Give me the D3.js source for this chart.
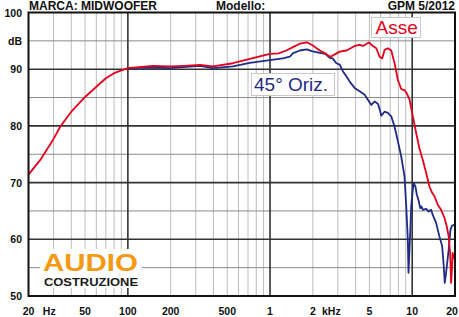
<!DOCTYPE html>
<html>
<head>
<meta charset="utf-8">
<script src="https://cdn.jsdelivr.net/npm/d3@7"></script>
<style>
  body { margin: 0; background: #fff; }
  svg { font-family: "Liberation Sans", Arial, sans-serif; }
</style>
</head>
<body>
<svg id="chart"></svg>
<script>
var width = 459
var height = 317
var margin = {top: 12.5, left: 28.5, right: 4, bottom: 21}

// frequency (Hz) / level (dB)
var asseFreq = [20, 24.2, 30, 33.5, 40, 50, 60, 70, 80, 90, 100, 150, 200, 250, 321, 397, 548, 721, 997, 1150, 1300, 1450, 1619, 1812, 1965, 2236, 2450, 2628, 2755, 3090, 3460, 3936, 4268, 4500, 4958, 5290, 5590, 5896, 6150, 6390, 6740, 7120, 7510, 7930, 8370, 8830, 9080, 9570, 10100, 10670, 11250, 11870, 12540, 13220, 13820, 14340, 15120, 15970, 16860, 17490, 18060, 18480, 18780, 19090, 19260, 19580, 20000]
var asseDb = [71.4, 74.0, 77.7, 79.9, 82.5, 85.1, 86.9, 88.4, 89.3, 89.8, 90.2, 90.6, 90.5, 90.6, 90.75, 90.5, 91.05, 91.8, 92.7, 92.8, 93.3, 93.9, 94.5, 94.75, 94.3, 93.3, 92.8, 92.2, 92.4, 93.1, 93.3, 94.1, 94.3, 94.1, 94.7, 94.1, 93.7, 92.2, 91.9, 93.4, 93.7, 93.3, 91.1, 88.1, 86.5, 86.3, 85.9, 84.7, 81.7, 78.7, 76.0, 74.0, 71.7, 69.3, 68.2, 67.6, 66.1, 65.2, 63.8, 62.3, 60.5, 57.6, 52.3, 55.25, 57.6, 57.0, 56.4]

var orizFreq = [100, 150, 198, 321, 397, 548, 721, 997, 1230, 1377, 1445, 1619, 1812, 1965, 2236, 2450, 2628, 2755, 2928, 3090, 3260, 3500, 3630, 3936, 4268, 4630, 4878, 5156, 5436, 5736, 5896, 6060, 6390, 6740, 7120, 7510, 7930, 8370, 8830, 9080, 9310, 9420, 9680, 9840, 10100, 10260, 10540, 10770, 11130, 11380, 11620, 11870, 12540, 13080, 13590, 13950, 14730, 15540, 16240, 16670, 16940, 17320, 18060, 18580, 19090, 20000]
var orizDb = [90.2, 90.3, 90.2, 90.6, 90.2, 90.5, 91.1, 91.6, 91.9, 92.2, 92.8, 93.3, 93.5, 93.2, 92.9, 92.7, 92.0, 91.9, 91.05, 90.8, 89.6, 88.5, 87.8, 86.7, 86.1, 85.5, 84.6, 83.7, 84.3, 83.9, 83.0, 81.8, 82.5, 82.3, 81.7, 79.9, 77.3, 74.6, 71.1, 65.8, 60.0, 54.1, 61.1, 65.8, 68.75, 69.9, 69.3, 67.9, 66.7, 65.5, 65.8, 65.2, 65.35, 64.9, 65.2, 64.3, 62.9, 60.5, 58.8, 55.3, 52.3, 54.1, 58.2, 61.7, 62.4, 62.6]

var xTickVals = [20, 50, 100, 200, 500, 1000, 2000, 5000, 10000, 20000]
var xTickText = ['20', '50', '100', '200', '500', '1', '2', '5', '10', '20']
var yTickVals = [50, 60, 70, 80, 90, 100]

var svg = d3.select('#chart').attr('width', width).attr('height', height)

var xScale = d3.scaleLog().domain([20, 20000]).range([margin.left, width - margin.right])
var yScale = d3.scaleLinear().domain([50, 100]).range([height - margin.bottom, margin.top])

// grid
var minorFreq = []
;[10, 100, 1000, 10000].forEach(function (dec) {
    for (var k = 2; k <= 9; k++) {
        var f = dec * k
        if (f > 20 && f < 20000) minorFreq.push(f)
    }
})
svg.append('g').selectAll('line')
    .data(minorFreq)
    .enter()
    .append('line')
    .attr('x1', function (d) { return xScale(d) })
    .attr('x2', function (d) { return xScale(d) })
    .attr('y1', yScale(100))
    .attr('y2', yScale(50))
    .style('stroke', '#bdbdbd')
    .style('stroke-width', 1)

svg.append('g').selectAll('line')
    .data(d3.range(55, 100, 10))
    .enter()
    .append('line')
    .attr('x1', xScale(20))
    .attr('x2', xScale(20000))
    .attr('y1', function (d) { return yScale(d) })
    .attr('y2', function (d) { return yScale(d) })
    .style('stroke', '#8a8a8a')
    .style('stroke-width', 1)

svg.append('g').selectAll('line')
    .data([100, 1000, 10000])
    .enter()
    .append('line')
    .attr('x1', function (d) { return xScale(d) })
    .attr('x2', function (d) { return xScale(d) })
    .attr('y1', yScale(100))
    .attr('y2', yScale(50))
    .style('stroke', '#333')
    .style('stroke-width', 1.6)

svg.append('g').selectAll('line')
    .data([60, 70, 80, 90])
    .enter()
    .append('line')
    .attr('x1', xScale(20))
    .attr('x2', xScale(20000))
    .attr('y1', function (d) { return yScale(d) })
    .attr('y2', function (d) { return yScale(d) })
    .style('stroke', '#333')
    .style('stroke-width', 1.6)

// curves
var line = d3.line()
    .x(function (d) { return xScale(d[0]) })
    .y(function (d) { return yScale(d[1]) })

svg.append('path')
    .datum(d3.zip(orizFreq, orizDb))
    .attr('d', line)
    .style('fill', 'none')
    .style('stroke', '#1f2c87')
    .style('stroke-width', 1.8)
    .style('stroke-linejoin', 'round')

svg.append('path')
    .datum(d3.zip(asseFreq, asseDb))
    .attr('d', line)
    .style('fill', 'none')
    .style('stroke', '#e4001c')
    .style('stroke-width', 1.8)
    .style('stroke-linejoin', 'round')

// frame
svg.append('rect')
    .attr('x', xScale(20))
    .attr('y', yScale(100))
    .attr('width', xScale(20000) - xScale(20))
    .attr('height', yScale(50) - yScale(100))
    .style('fill', 'none')
    .style('stroke', '#111')
    .style('stroke-width', 2)

// logo
var logo = svg.append('g')
logo.append('rect')
    .attr('x', 40).attr('y', 249).attr('width', 102).attr('height', 39)
    .style('fill', '#fff')
logo.append('text')
    .attr('x', 43).attr('y', 270.5)
    .attr('textLength', 95).attr('lengthAdjust', 'spacingAndGlyphs')
    .style('font-size', '23px').style('font-weight', 'bold')
    .style('fill', '#f39a12')
    .text('AUDIO')
logo.append('text')
    .attr('x', 44).attr('y', 286)
    .attr('textLength', 94).attr('lengthAdjust', 'spacingAndGlyphs')
    .style('font-size', '11.5px').style('font-weight', 'bold')
    .style('fill', '#1a1a1a')
    .text('COSTRUZIONE')

// header
var header = svg.append('g').style('font-size', '12px').style('font-weight', 'bold').style('fill', '#111')
header.append('text').attr('x', 29).attr('y', 9.5).text('MARCA: MIDWOOFER')
header.append('text').attr('x', 216).attr('y', 9.5).text('Modello:')
header.append('text').attr('x', 455).attr('y', 9.5).attr('text-anchor', 'end').text('GPM 5/2012')

// y labels
var yLab = svg.append('g').style('font-size', '10.5px').style('font-weight', 'bold').style('fill', '#111')
    .attr('text-anchor', 'end')
yLab.selectAll('text')
    .data(yTickVals)
    .enter()
    .append('text')
    .attr('x', 22)
    .attr('y', function (d) { return yScale(d) + 4 })
    .text(function (d) { return d })
yLab.append('text').attr('x', 22).attr('y', yScale(95) + 4).text('dB')

// x labels
var xLab = svg.append('g').style('font-size', '10.5px').style('font-weight', 'bold').style('fill', '#111')
    .attr('text-anchor', 'middle')
xLab.selectAll('text')
    .data(xTickVals)
    .enter()
    .append('text')
    .attr('x', function (d, i) { return i === xTickVals.length - 1 ? xScale(d) - 3 : xScale(d) })
    .attr('y', 315)
    .text(function (d, i) { return xTickText[i] })
xLab.append('text').attr('x', xScale(28)).attr('y', 315).text('Hz')
xLab.append('text').attr('x', xScale(2700)).attr('y', 315).text('kHz')

// series labels
function boxLabel(x, y, w, h, tx, ty, txt, color) {
    svg.append('rect')
        .attr('x', x).attr('y', y).attr('width', w).attr('height', h)
        .style('fill', '#fff').style('stroke', '#c8c8c8').style('stroke-width', 1)
    svg.append('text')
        .attr('x', tx).attr('y', ty)
        .style('font-size', '19px').style('fill', color)
        .text(txt)
}
boxLabel(371.5, 17.5, 49, 20, 375.5, 34, 'Asse', '#e4001c')
boxLabel(251.5, 73.5, 83, 22, 254, 91, '45° Oriz.', '#1f2c87')
</script>
</body>
</html>
